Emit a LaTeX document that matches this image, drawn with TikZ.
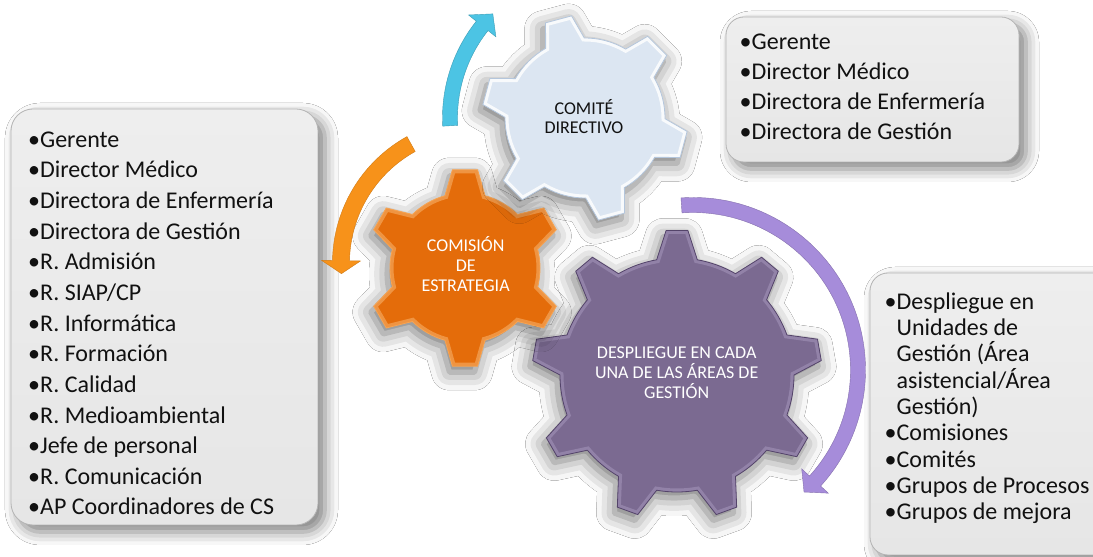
\documentclass[tikz,border=0pt]{standalone}
\usepackage{fontspec}
\setmainfont{Carlito}
\usetikzlibrary{shadows.blur}
\definecolor{boxfill}{HTML}{E6E6E6}
\definecolor{boxtop}{HTML}{EEEEEE}
\definecolor{boxline}{HTML}{B4B4B4}
\definecolor{cdfill}{HTML}{DCE6F2}
\definecolor{cdline}{HTML}{B4C6DC}
\definecolor{cdbevel}{HTML}{FFFFFF}
\definecolor{orfill}{HTML}{E46C0A}
\definecolor{orline}{HTML}{F6A453}
\definecolor{orbevel}{HTML}{F5A65A}
\definecolor{pufill}{HTML}{7B6A91}
\definecolor{puline}{HTML}{54446A}
\definecolor{pubevel}{HTML}{9C8DB3}
\definecolor{cyarrow}{HTML}{4CC4E4}
\definecolor{orarrow}{HTML}{F7921A}
\definecolor{puarrow}{HTML}{A68CDA}
\definecolor{txt}{HTML}{111111}

% gear: style, center, teeth, body radius, tip radius, first tooth angle, base half-angle, tip half-angle
\newcommand\drawgear[8]{%
 \path[#1, shift={#2}] ({#6-#7}:#4) \foreach \gi in {1,...,#3}{
   -- ({#6+(\gi-1)*360/#3-#8}:#5) -- ({#6+(\gi-1)*360/#3+#8}:#5) -- ({#6+(\gi-1)*360/#3+#7}:#4)
   arc[start angle={#6+(\gi-1)*360/#3+#7}, end angle={#6+\gi*360/#3-#7}, radius=#4]
 } -- cycle;}

% circular arrow: style, center, radius, shaft half width, head half width, tail angle, head base angle, tip angle
\newcommand\drawcarrow[8]{%
 \path[#1, shift={#2}] (#6:{#3+#4}) arc[start angle=#6, end angle=#7, radius={#3+#4}]
   -- (#7:{#3+#5}) -- (#8:#3) -- (#7:{#3-#5}) -- (#7:{#3-#4})
   arc[start angle=#7, end angle=#6, radius={#3-#4}] -- cycle;}

\tikzset{
  listbox/.style={draw=boxline, line width=0.8pt, top color=boxtop, bottom color=boxfill,
    blur shadow={shadow xshift=7pt, shadow yshift=-7pt, shadow blur radius=13pt, shadow opacity=50}},
  item/.style={anchor=base west, inner sep=0pt, text=txt, font=\fontsize{24}{28}\selectfont},
  geartext/.style={anchor=base, inner sep=0pt, font=\fontsize{18}{20}\selectfont},
  gearshadow/.style={blur shadow={shadow xshift=-3pt, shadow yshift=-6pt, shadow blur radius=18pt, shadow opacity=55}},
}

\begin{document}
\begin{tikzpicture}[x=1pt, y=1pt]
\useasboundingbox (0,0) rectangle (1093,557);
\fill[white] (0,0) rectangle (1093,557);

% list boxes
\path[listbox, rounded corners=22pt] (11,32) rectangle (318,448);
\path[listbox, rounded corners=18pt] (726,395) rectangle (1019,540);
\path[listbox, rounded corners=18pt] (870,2) rectangle (1120,284);

% gears
\drawgear{gearshadow, fill=pufill}{(677,182)}{9}{117}{145}{90}{10}{4.3}
\begin{scope}
\drawgear{clip}{(677,182)}{9}{117}{145}{90}{10}{4.3}
\drawgear{draw=pubevel, line width=7pt, opacity=0.7}{(677,182)}{9}{117}{145}{90}{10}{4.3}
\end{scope}
\drawgear{draw=puline, line width=0.8pt}{(677,182)}{9}{117}{145}{90}{10}{4.3}

\drawgear{gearshadow, fill=orfill}{(465,289)}{6}{75}{99}{90}{15.5}{7.3}
\begin{scope}
\drawgear{clip}{(465,289)}{6}{75}{99}{90}{15.5}{7.3}
\drawgear{draw=orbevel, line width=7pt, opacity=0.7}{(465,289)}{6}{75}{99}{90}{15.5}{7.3}
\end{scope}
\drawgear{draw=orline, line width=0.8pt}{(465,289)}{6}{75}{99}{90}{15.5}{7.3}

\drawgear{gearshadow, fill=cdfill}{(585,439)}{6}{80}{103}{105}{14.5}{7.5}
\begin{scope}
\drawgear{clip}{(585,439)}{6}{80}{103}{105}{14.5}{7.5}
\drawgear{draw=cdbevel, line width=7pt, opacity=0.8}{(585,439)}{6}{80}{103}{105}{14.5}{7.5}
\end{scope}
\drawgear{draw=cdline, line width=0.8pt}{(585,439)}{6}{80}{103}{105}{14.5}{7.5}

% arrows
\drawcarrow{fill=cyarrow, draw=cyarrow!80!black, line width=0.4pt}{(598,439)}{148}{7.5}{17.5}{183}{141.5}{135.3}
\drawcarrow{fill=orarrow, draw=orarrow!85!black, line width=0.4pt}{(477,294)}{136}{8.5}{19.5}{119}{179}{184.5}
\drawcarrow{fill=puarrow, draw=puarrow!80!black, line width=0.4pt}{(693,187)}{165}{7.5}{18}{94}{-42.3}{-47.7}

% gear labels
\node[geartext, text=txt] (cd1) at (584,442) {COMITÉ};
\node[geartext, text=txt] (cd2) at (584,423.7) {DIRECTIVO};
\node[geartext, text=white] (ce1) at (465.7,305.3) {COMISIÓN};
\node[geartext, text=white] (ce2) at (465.7,285.3) {DE};
\node[geartext, text=white] (ce3) at (465.7,265.3) {ESTRATEGIA};
\node[geartext, text=white] (dp1) at (676.7,198.7) {DESPLIEGUE EN CADA};
\node[geartext, text=white] (dp2) at (676.7,178.7) {UNA DE LAS ÁREAS DE};
\node[geartext, text=white] (dp3) at (676.7,158.7) {GESTIÓN};

% left list
\foreach \t [count=\i] in {Gerente, Director Médico, Directora de Enfermería, Directora de Gestión,
  R. Admisión, {R. SIAP/CP}, R. Informática, R. Formación, R. Calidad, R. Medioambiental,
  Jefe de personal, R. Comunicación, AP Coordinadores de CS}
  \node[item] (l\i) at (28,{409.7-(\i-1)*30.64}) {•\t};

% top right list
\foreach \t [count=\i] in {Gerente, Director Médico, Directora de Enfermería, Directora de Gestión}
  \node[item] (t\i) at (739.5,{507-(\i-1)*30}) {•\t};

% right list
\foreach \t [count=\i] in {•Despliegue en, \hphantom{•}Unidades de, \hphantom{•}Gestión (Área,
  {\hphantom{•}asistencial/Área}, \hphantom{•}Gestión), •Comisiones, •Comités, •Grupos de Procesos, •Grupos de mejora}
  \node[item] (r\i) at (884.5,{247.7-(\i-1)*26.3}) {\t};
\end{tikzpicture}
\end{document}
